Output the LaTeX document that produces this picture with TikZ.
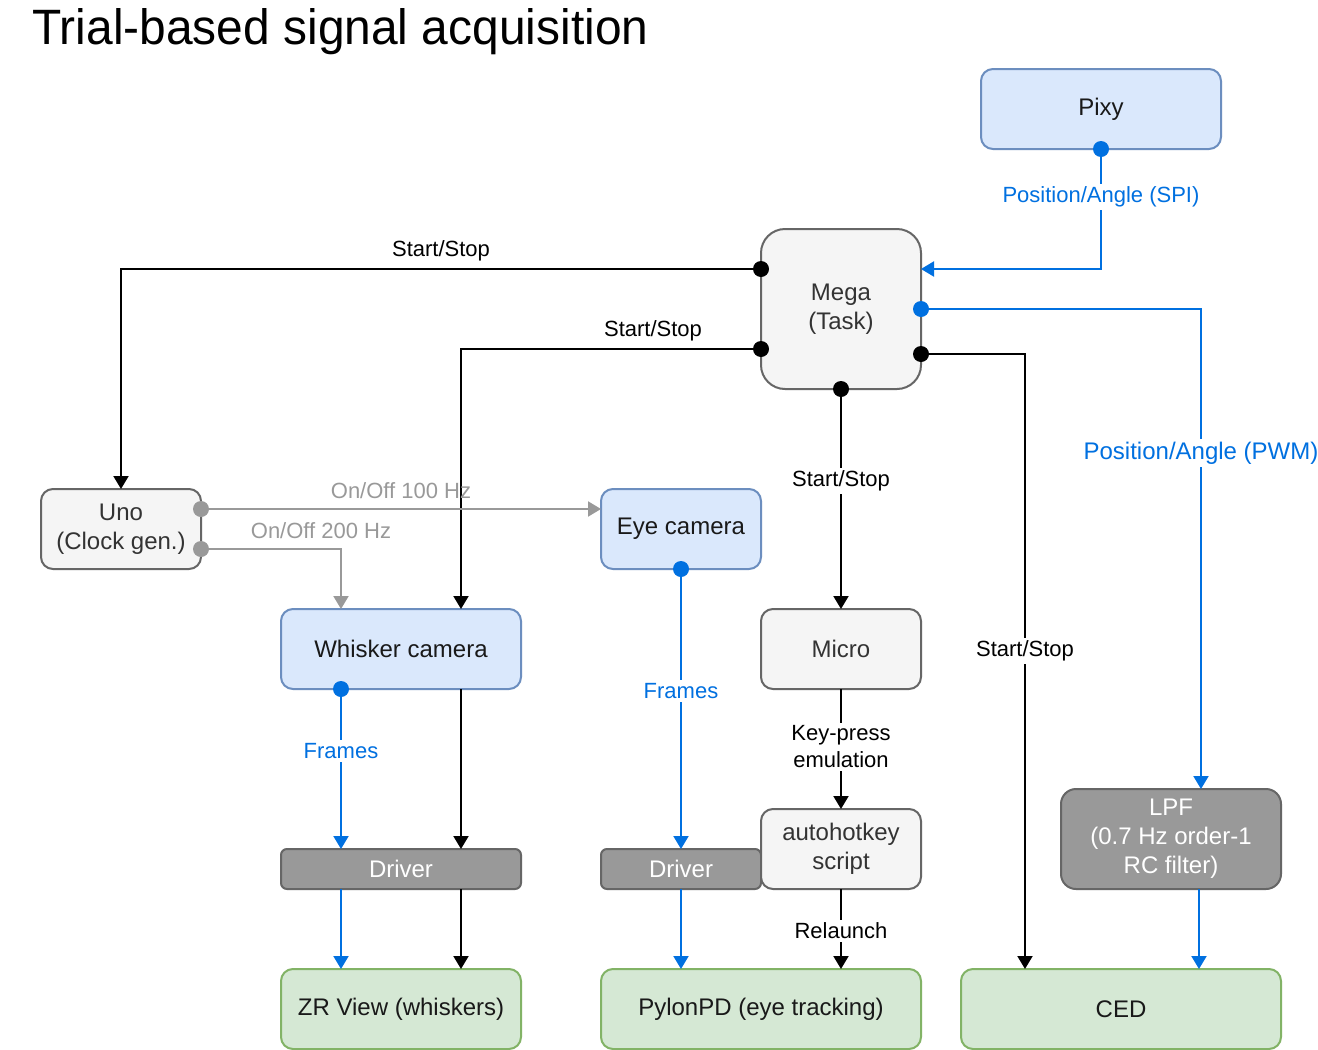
\documentclass[tikz,border=0pt]{standalone}
\usepackage{fontspec}
\usepackage{graphicx}
\setmainfont{Liberation Sans}
\usetikzlibrary{arrows.meta,calc}
\definecolor{bluefill}{HTML}{DAE8FC}
\definecolor{bluestroke}{HTML}{6C8EBF}
\definecolor{greyfill}{HTML}{F5F5F5}
\definecolor{greystroke}{HTML}{666666}
\definecolor{darkfill}{HTML}{999999}
\definecolor{greenfill}{HTML}{D5E8D4}
\definecolor{greenstroke}{HTML}{82B366}
\definecolor{sigblue}{HTML}{0070E0}
\definecolor{clockgrey}{HTML}{999999}
\definecolor{txtgrey}{HTML}{333333}
\begin{document}
\begin{tikzpicture}[x=0.5pt,y=-0.5pt,
  box/.style={draw, line width=1pt, inner sep=0pt, outer sep=0pt, align=center,
    font=\fontsize{12}{14.5}\selectfont, rounded corners=6pt},
  bluebox/.style={box, fill=bluefill, draw=bluestroke, text=black!90},
  greybox/.style={box, fill=greyfill, draw=greystroke, text=txtgrey},
  darkbox/.style={box, fill=darkfill, draw=greystroke, text=white},
  greenbox/.style={box, fill=greenfill, draw=greenstroke, text=black!90},
  conn/.style={line width=1pt, -{Triangle[width=7.5pt,length=6.5pt]}},
  blk/.style={conn, color=black},
  blu/.style={conn, color=sigblue},
  gry/.style={conn, color=clockgrey},
  lbl/.style={font=\fontsize{11}{13.5}\selectfont, inner sep=1.5pt, align=center},
  wlbl/.style={lbl, fill=white},
]
\useasboundingbox (0,0) rectangle (1318,1050);
\fill[white] (0,0) rectangle (1318,1050);

% title
\node[anchor=base west, inner sep=0pt] (title) at (32,44)
  {\resizebox{308pt}{18pt}{\fontsize{25}{30}\selectfont Trial-based signal acquisition}};

% nodes
\node[bluebox, minimum width=120pt, minimum height=40pt] (pixy) at (1101,109) {Pixy};
\node[greybox, minimum width=80pt, minimum height=80pt, rounded corners=12pt] (mega) at (841,309) {Mega\\(Task)};
\node[greybox, minimum width=80pt, minimum height=40pt] (uno) at (121,529) {Uno\\(Clock gen.)};
\node[bluebox, minimum width=80pt, minimum height=40pt] (eyecam) at (681,529) {Eye camera};
\node[bluebox, minimum width=120pt, minimum height=40pt] (whisk) at (401,649) {Whisker camera};
\node[greybox, minimum width=80pt, minimum height=40pt] (micro) at (841,649) {Micro};
\node[darkbox, minimum width=120pt, minimum height=20pt, rounded corners=3pt] (drvw) at (401,869) {Driver};
\node[darkbox, minimum width=80pt, minimum height=20pt, rounded corners=3pt] (drve) at (681,869) {Driver};
\node[greybox, minimum width=80pt, minimum height=40pt] (ahk) at (841,849) {autohotkey\\script};
\node[darkbox, minimum width=110pt, minimum height=50pt, rounded corners=7.5pt] (lpf) at (1171,839) {LPF\\(0.7 Hz order-1\\RC filter)};
\node[greenbox, minimum width=120pt, minimum height=40pt] (zr) at (401,1009) {ZR View (whiskers)};
\node[greenbox, minimum width=160pt, minimum height=40pt] (pylon) at (761,1009) {PylonPD (eye tracking)};
\node[greenbox, minimum width=160pt, minimum height=40pt] (ced) at (1121,1009) {CED};

% connection points
\coordinate (megaL1) at ($(mega.west)+(0,-40)$);
\coordinate (megaL2) at ($(mega.west)+(0,40)$);
\coordinate (megaR1) at ($(mega.east)+(0,-40)$);
\coordinate (megaR3) at ($(mega.east)+(0,45)$);
\coordinate (unoR1) at ($(uno.east)+(0,-20)$);
\coordinate (unoR2) at ($(uno.east)+(0,20)$);
\coordinate (eyeL) at ($(eyecam.west)+(0,-20)$);
\coordinate (whiskN1) at ($(whisk.north)+(-60,0)$);
\coordinate (whiskN2) at ($(whisk.north)+(60,0)$);
\coordinate (whiskS1) at ($(whisk.south)+(-60,0)$);
\coordinate (whiskS2) at ($(whisk.south)+(60,0)$);
\coordinate (drvwN1) at ($(drvw.north)+(-60,0)$);
\coordinate (drvwN2) at ($(drvw.north)+(60,0)$);
\coordinate (drvwS1) at ($(drvw.south)+(-60,0)$);
\coordinate (drvwS2) at ($(drvw.south)+(60,0)$);
\coordinate (zrN1) at ($(zr.north)+(-60,0)$);
\coordinate (zrN2) at ($(zr.north)+(60,0)$);
\coordinate (pylonN1) at ($(pylon.north)+(-80,0)$);
\coordinate (pylonN2) at ($(pylon.north)+(80,0)$);
\coordinate (lpfN) at ($(lpf.north)+(30,0)$);
\coordinate (lpfS) at ($(lpf.south)+(28,0)$);
\coordinate (cedN1) at ($(ced.north)+(-96,0)$);
\coordinate (cedN2) at ($(ced.north)+(78,0)$);

% connectors
\draw[blu] (pixy.south) |- (megaR1);
\draw[blk] (megaL1) -| (uno.north);
\draw[blk] (megaL2) -| (whiskN2);
\draw[blk] (mega.south) -- (micro.north);
\draw[blu] (mega.east) -| (lpfN);
\draw[blk] (megaR3) -| (cedN1);
\draw[gry] (unoR1) -- (eyeL);
\draw[gry] (unoR2) -| (whiskN1);
\draw[blu] (eyecam.south) -- (drve.north);
\draw[blu] (whiskS1) -- (drvwN1);
\draw[blk] (whiskS2) -- (drvwN2);
\draw[blk] (micro.south) -- (ahk.north);
\draw[blu] (drvwS1) -- (zrN1);
\draw[blk] (drvwS2) -- (zrN2);
\draw[blu] (drve.south) -- (pylonN1);
\draw[blk] (ahk.south) -- (pylonN2);
\draw[blu] (lpfS) -- (cedN2);

% dots
\fill[sigblue] (pixy.south) circle (4pt);
\fill[black] (megaL1) circle (4pt);
\fill[black] (megaL2) circle (4pt);
\fill[black] (mega.south) circle (4pt);
\fill[sigblue] (mega.east) circle (4pt);
\fill[black] (megaR3) circle (4pt);
\fill[clockgrey] (unoR1) circle (4pt);
\fill[clockgrey] (unoR2) circle (4pt);
\fill[sigblue] (eyecam.south) circle (4pt);
\fill[sigblue] (whiskS1) circle (4pt);

% labels
\node[wlbl, text=sigblue] (l1) at (1101,197) {Position/Angle (SPI)};
\node[lbl] (l2) at (441,251) {Start/Stop};
\node[lbl] (l3) at (653,331) {Start/Stop};
\node[wlbl] (l4) at (841,481) {Start/Stop};
\node[wlbl, text=sigblue, font=\fontsize{12}{14}\selectfont] (l5) at (1201,453) {Position/Angle (PWM)};
\node[wlbl] (l6) at (1025,651) {Start/Stop};
\node[lbl, text=clockgrey] (l7) at (401,491) {On/Off 100 Hz};
\node[lbl, text=clockgrey] (l8) at (321,531) {On/Off 200 Hz};
\node[wlbl, text=sigblue] (l9) at (681,691) {Frames};
\node[wlbl, text=sigblue] (l10) at (341,751) {Frames};
\node[wlbl] (l11) at (841,747) {Key-press\\emulation};
\node[wlbl] (l12) at (841,931) {Relaunch};
\end{tikzpicture}
\end{document}
